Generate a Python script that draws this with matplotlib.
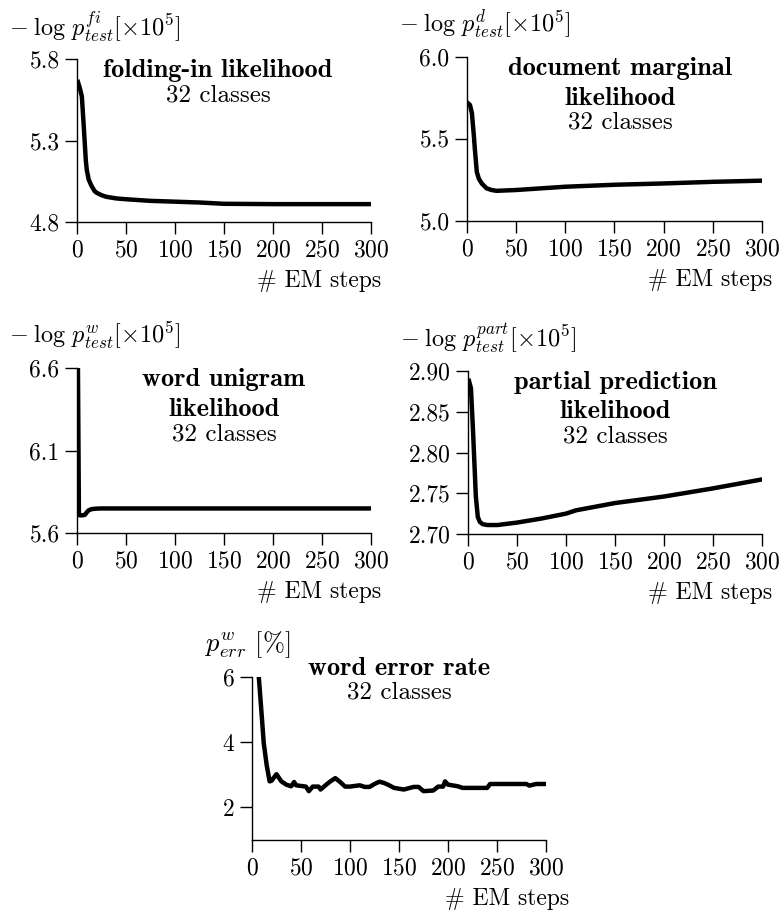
import matplotlib
matplotlib.use("Agg")
import matplotlib.pyplot as plt

plt.rcParams['font.family'] = 'serif'
plt.rcParams['font.serif'] = ['cmr10']
plt.rcParams['mathtext.fontset'] = 'cm'
plt.rcParams['axes.formatter.use_mathtext'] = True

# folding-in likelihood
fi_x = [1, 3, 5, 7, 9, 10, 12, 15, 18, 20, 25, 30, 40, 50, 75, 100, 125, 150, 200, 250, 300]
fi_y = [5.66, 5.62, 5.57, 5.38, 5.18, 5.12, 5.06, 5.02, 4.99, 4.98, 4.965, 4.955, 4.945, 4.94, 4.93, 4.925, 4.92, 4.912, 4.91, 4.91, 4.91]

# document marginal likelihood
dm_x = [1, 3, 5, 7, 8, 10, 12, 15, 20, 25, 30, 50, 75, 100, 150, 200, 250, 300]
dm_y = [5.72, 5.71, 5.66, 5.52, 5.44, 5.30, 5.26, 5.23, 5.20, 5.19, 5.185, 5.19, 5.20, 5.21, 5.222, 5.23, 5.24, 5.247]

# word unigram likelihood
wu_x = [1, 2, 3, 5, 8, 10, 12, 15, 20, 25, 50, 100, 200, 300]
wu_y = [6.60, 5.71, 5.707, 5.707, 5.71, 5.725, 5.738, 5.745, 5.748, 5.749, 5.749, 5.749, 5.749, 5.749]

# partial prediction likelihood
pp_x = [1, 3, 5, 8, 10, 12, 15, 20, 30, 50, 75, 100, 110, 150, 200, 250, 300]
pp_y = [2.888, 2.879, 2.83, 2.746, 2.721, 2.715, 2.712, 2.711, 2.711, 2.714, 2.719, 2.725, 2.729, 2.738, 2.746, 2.756, 2.767]

# word error rate
we_x = [7, 10, 12, 15, 18, 20, 25, 30, 35, 40, 43, 45, 55, 58, 62, 68, 70, 75, 80, 85, 90, 95,
        100, 110, 115, 120, 125, 130, 135, 140, 145, 155, 165, 170, 175, 185, 190, 195, 197,
        200, 210, 215, 240, 243, 280, 283, 290, 300]
we_y = [6.0, 4.8, 3.98, 3.3, 2.8, 2.82, 3.02, 2.8, 2.7, 2.65, 2.78, 2.68, 2.64, 2.5, 2.64, 2.64,
        2.55, 2.68, 2.8, 2.9, 2.78, 2.64, 2.64, 2.68, 2.63, 2.63, 2.72, 2.79, 2.75, 2.68, 2.6,
        2.55, 2.63, 2.63, 2.5, 2.52, 2.64, 2.64, 2.8, 2.7, 2.65, 2.6, 2.6, 2.72, 2.72, 2.67,
        2.72, 2.72]

xticks = [0, 50, 100, 150, 200, 250, 300]

panels = [
    dict(rect=[0.0983, 0.756, 0.3755, 0.179], x=fi_x, y=fi_y, ylim=(4.8, 5.8),
         yticks=[4.8, 5.3, 5.8], fmt='%.1f',
         ylabel=r'$-\;\log\, p_{test}^{fi}[\times 10^5]$',
         title=['folding-in likelihood'], tx=0.48),
    dict(rect=[0.5964, 0.757, 0.3768, 0.180], x=dm_x, y=dm_y, ylim=(5.0, 6.0),
         yticks=[5.0, 5.5, 6.0], fmt='%.1f',
         ylabel=r'$-\;\log\, p_{test}^{d}[\times 10^5]$',
         title=['document marginal', 'likelihood'], tx=0.52),
    dict(rect=[0.0983, 0.4143, 0.3755, 0.181], x=wu_x, y=wu_y, ylim=(5.6, 6.6),
         yticks=[5.6, 6.1, 6.6], fmt='%.1f',
         ylabel=r'$-\;\log\, p_{test}^{w}[\times 10^5]$',
         title=['word unigram', 'likelihood'], tx=0.50),
    dict(rect=[0.5977, 0.4132, 0.3755, 0.179], x=pp_x, y=pp_y, ylim=(2.70, 2.90),
         yticks=[2.70, 2.75, 2.80, 2.85, 2.90], fmt='%.2f',
         ylabel=r'$-\;\log\, p_{test}^{part}[\times 10^5]$',
         title=['partial prediction', 'likelihood'], tx=0.50),
]

fig = plt.figure(figsize=(7.83, 9.10), dpi=100)


def style_axes(ax, ylim, yticks, fmt, xr):
    ax.set_xlim(0, 300)
    ax.set_ylim(*ylim)
    ax.set_xticks(xticks)
    ax.set_yticks(yticks)
    ax.set_yticklabels([fmt % v for v in yticks])
    ax.spines['top'].set_visible(False)
    ax.spines['right'].set_visible(False)
    for s in ['left', 'bottom']:
        ax.spines[s].set_linewidth(1.0)
    ax.tick_params(direction='out', length=8.5, width=1.0, labelsize=17, pad=4)
    ax.text(xr, -0.36, '# EM steps', transform=ax.transAxes, ha='right', va='center', fontsize=17)


for p in panels:
    ax = fig.add_axes(p['rect'])
    ax.plot(p['x'], p['y'], color='black', lw=3.2, solid_joinstyle='round')
    style_axes(ax, p['ylim'], p['yticks'], p['fmt'], 1.035)
    ax.text(-0.23, 1.2, p['ylabel'], transform=ax.transAxes, ha='left', va='center', fontsize=17.5)
    ty = 0.93
    for line in p['title']:
        ax.text(p['tx'], ty, line, transform=ax.transAxes, ha='center', va='center',
                fontsize=19, fontfamily='cmb10')
        ty -= 0.18
    ax.text(p['tx'], ty + 0.03, '32 classes', transform=ax.transAxes, ha='center', va='center', fontsize=18)

# word error rate
ax = fig.add_axes([0.3218, 0.0769, 0.3755, 0.179])
ax.plot(we_x, we_y, color='black', lw=3.2, solid_joinstyle='round')
style_axes(ax, (1, 6), [2, 4, 6], '%d', 1.08)
ax.text(-0.16, 1.2, r'$p_{err}^{w}$ [%]', transform=ax.transAxes, ha='left', va='center', fontsize=19)
ax.text(0.5, 1.055, 'word error rate', transform=ax.transAxes, ha='center', va='center',
        fontsize=19, fontfamily='cmb10')
ax.text(0.5, 0.905, '32 classes', transform=ax.transAxes, ha='center', va='center', fontsize=18)

fig.savefig('out.png', dpi=100)
